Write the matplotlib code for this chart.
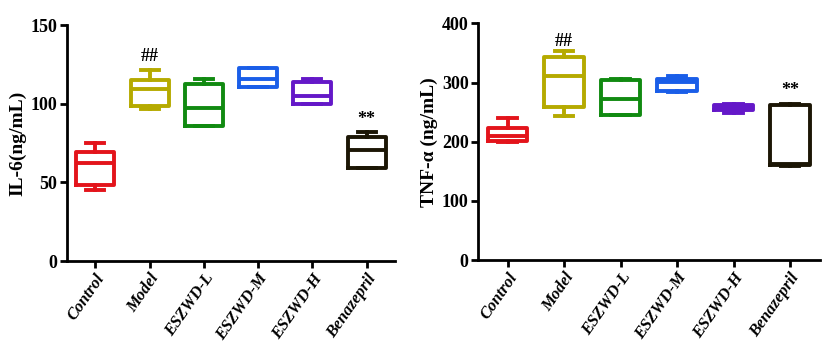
import numpy as np
import matplotlib
matplotlib.use('Agg')
from matplotlib import pyplot as plt

groups = ['Control', 'Model', 'ESZWD-L', 'ESZWD-M', 'ESZWD-H', 'Benazepril']
colors = ['#e3141b', '#b5aa00', '#118a11', '#1a5ee8', '#6418c8', '#1c1605']

# IL-6 (min, q1, median, q3, max)
il6_min = [45, 97, 86, 110.4, 99.6, 58.9]
il6_q1 = [48.7, 98.5, 86, 110.4, 99.6, 59.5]
il6_med = [62.5, 109.7, 97.5, 115.7, 105, 70.6]
il6_q3 = [69.5, 115, 112.5, 122.7, 113.8, 79]
il6_max = [74.8, 121.4, 115.5, 123, 115.5, 81.8]

# TNF-a
tnf_min = [200, 243, 246, 284, 248, 159.4]
tnf_q1 = [201, 258, 246, 285.6, 254, 160.6]
tnf_med = [209.6, 311, 273, 301.4, 258, 163]
tnf_q3 = [224, 343.7, 304, 306, 262, 262]
tnf_max = [239.4, 353, 306, 311, 263, 263]

il6_marks = {1: ('##', 130), 5: ('**', 90)}
tnf_marks = {1: ('##', 369), 5: ('**', 287)}

plt.rcParams['font.family'] = ['Liberation Serif', 'DejaVu Serif']
plt.rcParams['font.weight'] = 'bold'

fig = plt.figure(figsize=(8.29, 3.5), dpi=100)
ax1 = fig.add_axes([0.081, 0.254, 0.396, 0.674])
ax2 = fig.add_axes([0.577, 0.257, 0.412, 0.676])


def draw(ax, mn, q1, med, q3, mx, ymax, ylabel, marks):
    stats = []
    for i in range(len(groups)):
        stats.append(dict(whislo=mn[i], q1=q1[i], med=med[i], q3=q3[i], whishi=mx[i], fliers=[]))
    bp = ax.bxp(stats, positions=range(len(groups)), widths=0.7, capwidths=0.33,
                showfliers=False, patch_artist=False)
    for i, c in enumerate(colors):
        for art in [bp['boxes'][i], bp['medians'][i]]:
            art.set_color(c)
            art.set_linewidth(2.8)
        for art in bp['whiskers'][2 * i:2 * i + 2] + bp['caps'][2 * i:2 * i + 2]:
            art.set_color(c)
            art.set_linewidth(2.8)
        bp['boxes'][i].set_solid_joinstyle('round')
    for k, (txt, y) in marks.items():
        ax.text(k, y, txt, ha='center', va='center', fontsize=13, fontweight='bold')
    ax.set_xlim(-0.52, 5.53)
    ax.set_ylim(0, ymax)
    ax.set_xticks(range(len(groups)))
    ax.set_xticklabels(groups, rotation=55, ha='right', rotation_mode='anchor',
                       fontstyle='italic', fontweight='bold', fontsize=12)
    ax.set_ylabel(ylabel, fontsize=14, fontweight='bold', labelpad=3)
    for s in ['top', 'right']:
        ax.spines[s].set_visible(False)
    for s in ['left', 'bottom']:
        ax.spines[s].set_linewidth(2)
    ax.tick_params(width=2, length=5, labelsize=13, pad=2)
    ax.tick_params(axis='x', labelsize=12)


draw(ax1, il6_min, il6_q1, il6_med, il6_q3, il6_max, 150, 'IL-6(ng/mL)', il6_marks)
ax1.set_yticks([0, 50, 100, 150])
draw(ax2, tnf_min, tnf_q1, tnf_med, tnf_q3, tnf_max, 400, 'TNF-α (ng/mL)', tnf_marks)
ax2.set_yticks([0, 100, 200, 300, 400])
for ax in (ax1, ax2):
    for lab in ax.get_yticklabels():
        lab.set_fontweight('bold')

plt.savefig('out.png', dpi=100)
